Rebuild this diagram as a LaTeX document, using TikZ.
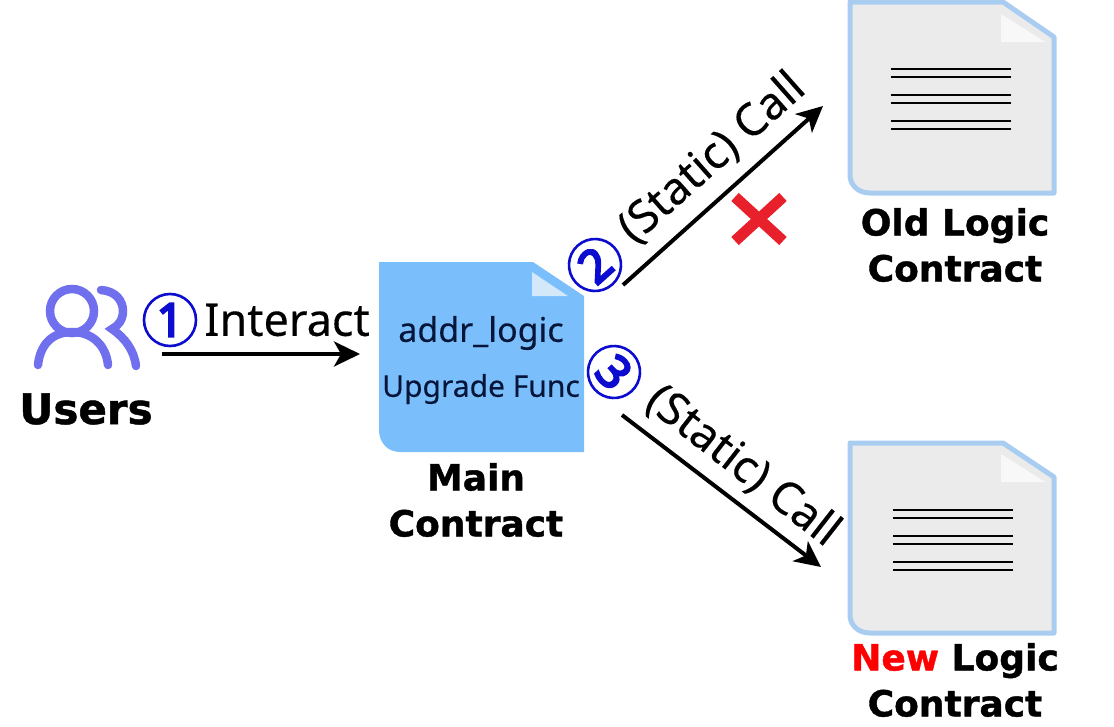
\documentclass[tikz,border=0pt]{standalone}
\usepackage{fontspec}
\setmainfont{DejaVu Sans}
\newfontfamily\thinfont[FakeBold=0.25]{Noto Sans}
\newfontfamily\numfont[FakeBold=5]{Noto Sans}
\newfontfamily\heavyfont[BoldFeatures={FakeBold=1.1}]{DejaVu Sans}
\usetikzlibrary{arrows.meta}
\definecolor{mainblue}{HTML}{7ABFFB}
\definecolor{foldblue}{HTML}{D3E8F8}
\definecolor{edgeblue}{HTML}{A9CDF0}
\definecolor{docgray}{HTML}{EBEBEB}
\definecolor{usercol}{HTML}{7070EE}
\definecolor{numblue}{HTML}{0C0CD0}
\definecolor{inkblue}{HTML}{06163A}
\definecolor{crossred}{HTML}{E8202C}
\tikzset{
  x=1pt,y=-1pt,
  arrowline/.style={draw=black,line width=4pt,-{Stealth[length=26pt,width=25pt,inset=7pt]}},
  docline/.style={draw=black,line width=2pt},
  olddoc/.style={fill=docgray,draw=edgeblue,line width=5pt,line join=round},
  foldmark/.style={fill=white,fill opacity=.65},
  usershape/.style={draw=usercol,line width=8.5pt,line cap=round},
  boldlabel/.style={font=\heavyfont\fontsize{36}{46}\selectfont\bfseries,align=center,inner sep=0pt,text=black},
  biglabel/.style={font=\thinfont\fontsize{45}{50}\selectfont,inner sep=0pt,text=black},
  doctext/.style={inner sep=0pt,text=inkblue,font=\thinfont},
  numcircle/.style={draw=numblue,line width=2.6pt,circle,minimum size=52pt,inner sep=0pt,text=numblue,font=\numfont\fontsize{46}{46}\selectfont},
}
\begin{document}
\begin{tikzpicture}
\useasboundingbox (0,0) rectangle (1114,726);
% users icon
\draw[usershape] (72,311) circle (22);
\draw[usershape] (38,365) .. controls (40,345) and (52,332) .. (72,332) .. controls (92,332) and (106,345) .. (108,365);
\draw[usershape] (101,290) .. controls (116,291) and (123,301) .. (123,311) .. controls (123,320) and (118,326) .. (112,329) .. controls (125,338) and (134,350) .. (136,366);
\node[boldlabel,font=\heavyfont\fontsize{42}{46}\selectfont\bfseries] (users) at (86,409) {Users};
% main contract
\path[fill=mainblue] (379,262) -- (533,262) -- (584,296) -- (584,452) -- (400,452) .. controls (388,452) and (379,443) .. (379,430) -- cycle;
\path[fill=foldblue] (532,272) -- (532,296) -- (568,296) -- cycle;
\node[doctext,font=\thinfont\fontsize{34}{34}\selectfont] (addr) at (481,333) {addr\_logic};
\node[doctext,font=\thinfont\fontsize{30}{30}\selectfont] (upg) at (481,389) {Upgrade Func};
\node[boldlabel] (mainlabel) at (476,500) {Main\\Contract};
% old logic contract
\path[olddoc] (850,2) -- (1003,2) -- (1054,37) -- (1054,193) -- (870,193) .. controls (858,193) and (850,185) .. (850,175) -- cycle;
\path[foldmark] (1001,14) -- (1001,42) -- (1045,42) -- cycle;
\foreach \yy in {69,77,95,103,121,129} \draw[docline] (891,\yy) -- (1011,\yy);
\node[boldlabel] (oldlabel) at (955,245) {Old Logic\\Contract};
% new logic contract
\path[olddoc] (850,443) -- (1003,443) -- (1054,477) -- (1054,633) -- (870,633) .. controls (858,633) and (850,625) .. (850,615) -- cycle;
\path[foldmark] (1001,454) -- (1001,482) -- (1045,482) -- cycle;
\foreach \yy in {510,518,536,544,562,570} \draw[docline] (893,\yy) -- (1013,\yy);
\node[boldlabel] (newlabel) at (955,680) {\textcolor{red}{New} Logic\\Contract};
% connectors
\coordinate (a1s) at (162,354);
\coordinate (a1e) at (360,354);
\coordinate (a2s) at (623,285);
\coordinate (a2e) at (823,106);
\coordinate (a3s) at (622,415);
\coordinate (a3e) at (821,567);
\draw[arrowline] (a1s) -- (a1e);
\draw[arrowline] (a2s) -- (a2e);
\draw[arrowline] (a3s) -- (a3e);
% labels
\node[numcircle] (n1) at (170,320) {1};
\node[biglabel] (interact) at (287,320) {Interact};
\node[numcircle,rotate=42] (n2) at (595,265) {2};
\node[numcircle,rotate=-48] (n3) at (614,372) {3};
\node[biglabel,rotate=41.5] (call2) at (712,158) {(Static) Call};
\node[biglabel,rotate=-38] (call3) at (743,466) {(Static) Call};
% cross
\draw[draw=crossred,line width=11pt] (735,197) -- (783,241);
\draw[draw=crossred,line width=11pt] (783,197) -- (735,241);
\end{tikzpicture}
\end{document}
